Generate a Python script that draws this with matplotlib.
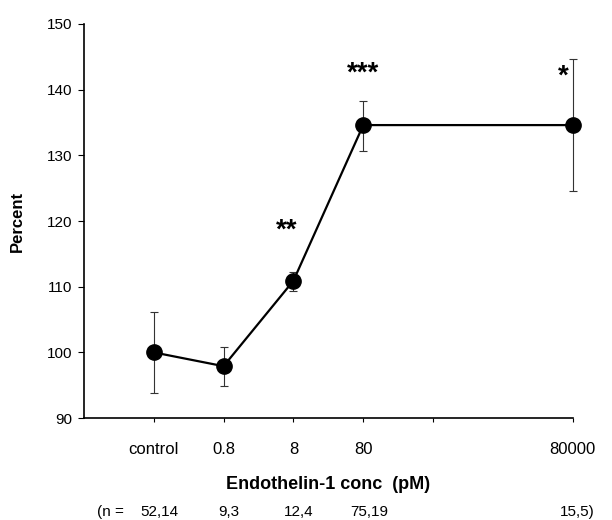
import matplotlib
matplotlib.use("Agg")
import matplotlib.pyplot as plt
import matplotlib.transforms as mtransforms

plt.rcParams['font.family'] = ['Liberation Sans', 'DejaVu Sans']

# ----------------- data -----------------
conc_labels = ["control", "0.8", "8", "80", "80000"]
x_pos = [1, 2, 3, 4, 7]
percent = [100.0, 97.9, 110.9, 134.6, 134.6]
err_low = [6.2, 3.0, 1.5, 3.9, 10.1]
err_high = [6.1, 2.9, 1.4, 3.7, 10.0]
stars = ["", "", "**", "***", "*"]
star_x = [1, 2, 2.9, 4, 6.86]
star_y = [0, 0, 118.6, 142.4, 142.0]
n_labels = ["52,14", "9,3", "12,4", "75,19", "15,5)"]

fig = plt.figure(figsize=(6.12, 5.2), dpi=100)
ax = fig.add_axes([0.137, 0.196, 0.799, 0.758])

eb = ax.errorbar(x_pos, percent, yerr=[err_low, err_high], fmt='none',
                 ecolor='#333333', elinewidth=0.8, capsize=3, capthick=0.8,
                 zorder=2)
for art in eb.lines[1] + eb.lines[2]:
    art.set_clip_on(False)
ax.plot(x_pos, percent, color='black', linewidth=1.6, marker='o',
        markersize=11, markerfacecolor='black', zorder=3, clip_on=False)

for sx, sy, s in zip(star_x, star_y, stars):
    if s:
        ax.text(sx, sy, s, ha='center', va='center', fontsize=20,
                fontweight='bold')

ax.set_xlim(0, 7)
ax.set_ylim(90, 150)
ax.set_yticks([90, 100, 110, 120, 130, 140, 150])
ax.set_xticks([1, 2, 3, 4, 5, 7])
ax.set_xticklabels(conc_labels[:4] + [""] + conc_labels[4:])

for side in ['top', 'right']:
    ax.spines[side].set_visible(False)
for side in ['left', 'bottom']:
    ax.spines[side].set_linewidth(1.2)

ax.tick_params(axis='y', direction='out', length=4, width=0.8,
               labelsize=11, pad=4)
ax.tick_params(axis='x', direction='out', length=3, width=0.8,
               labelsize=12, pad=14)

ax.set_ylabel("Percent", fontsize=12, fontweight='bold', labelpad=16)
ax.set_xlabel("Endothelin-1 conc  (pM)", fontsize=13, fontweight='bold',
              labelpad=14)

# sample counts row under the axis label
trans = mtransforms.blended_transform_factory(ax.transData, fig.transFigure)
ax.text(0.38, 0.016, "(n =", transform=trans, ha='center', va='center',
        fontsize=11)
for xp, lab in zip(x_pos, n_labels):
    off = 0.06 if lab.endswith(")") else 0.08
    ax.text(xp + off, 0.016, lab, transform=trans, ha='center',
            va='center', fontsize=11)

fig.savefig("out.png", dpi=100)
